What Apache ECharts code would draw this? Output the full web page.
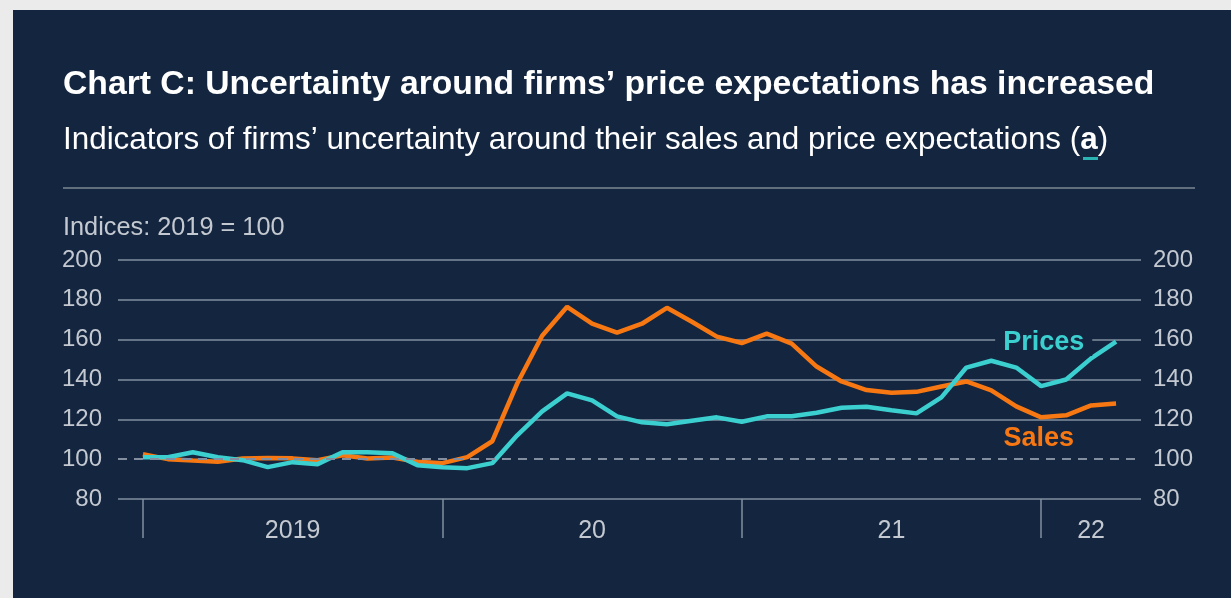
<!DOCTYPE html>
<html>
<head>
<meta charset="utf-8">
<script src="https://cdn.jsdelivr.net/npm/echarts@6/dist/echarts.min.js"></script>
<style>
  html, body { margin: 0; padding: 0; background: #ebebeb; }
  #chart { position: absolute; left: 13px; top: 10px; width: 1218px; height: 588px; }
</style>
</head>
<body>
<div id="chart"></div>
<script>
  // month index 0 = Jan 2019 ... 39 = Apr 2022
  const yearTicks = [0, 12, 24, 36]
  const yearLabelPos = [6, 18, 30, 38]
  const yearLabels = ['2019', '20', '21', '22']
  const yTicks = [80, 100, 120, 140, 160, 180, 200]

  const prices = [101, 101, 103.5, 101, 99.5, 96, 98.5, 97.5, 103.5, 103.5, 103, 97,
    96, 95.5, 98, 112, 124, 133, 129.5, 121.5, 118.5, 117.5, 119.3, 121,
    118.8, 121.5, 121.5, 123.3, 125.8, 126.3, 124.6, 123, 131, 146, 149.4, 146,
    136.7, 140, 150.6, 159]
  const sales = [102.5, 100, 99.3, 98.7, 100.3, 100.6, 100.4, 99.5, 102, 100.3, 100.8, 98.7,
    98, 101, 109, 138, 162, 176.5, 168, 163.5, 168, 176, 169, 161.5,
    158.3, 163, 158, 146.5, 139, 134.7, 133.3, 133.8, 136.5, 139, 134.5, 126.5,
    121, 122, 127, 128]

  const navy = '#13253f'
  const gridGrey = '#838fa0'
  const labelGrey = '#c4c9d1'
  const teal = '#3ccfd0'
  const orange = '#f77812'
  const font = '"Liberation Sans", Arial, sans-serif'

  const toPairs = arr => arr.map((v, i) => [i, v])

  // hide the solid grid line at 100, the dashed markLine replaces it
  const splitColors = yTicks.map(v => (v === 100 ? 'rgba(0,0,0,0)' : gridGrey))

  // inline series label drawn as an invisible markPoint
  function inlineLabel(text, color, coord, extra) {
    return {
      symbol: 'circle',
      symbolSize: 1,
      itemStyle: { color: 'rgba(0,0,0,0)' },
      label: Object.assign({
        show: true, position: 'inside', formatter: text, color: color,
        fontSize: 27, fontWeight: 'bold', fontFamily: font
      }, extra || {}),
      data: [{ coord: coord }]
    }
  }

  const chart = echarts.init(document.getElementById('chart'))
  chart.setOption({
    backgroundColor: navy,
    animation: false,
    textStyle: { fontFamily: font },
    graphic: [
      {
        type: 'text', x: 50, y: 75,
        style: {
          text: 'Chart C: Uncertainty around firms\u2019 price expectations has increased',
          fill: '#ffffff', font: 'bold 33.7px ' + font, verticalAlign: 'middle'
        }
      },
      {
        type: 'text', x: 50, y: 130,
        style: {
          text: 'Indicators of firms\u2019 uncertainty around their sales and price expectations ({b|a})',
          fill: '#ffffff', font: '31.4px ' + font, verticalAlign: 'middle',
          rich: { b: { fontWeight: 'bold', fontSize: 31.4, fill: '#ffffff' } }
        }
      },
      { type: 'rect', x: 1070, y: 147, shape: { width: 15, height: 3 }, style: { fill: '#2bb3b3' } },
      { type: 'line', shape: { x1: 50, y1: 178, x2: 1182, y2: 178 }, style: { stroke: '#7d8795', lineWidth: 1.5 } },
      {
        type: 'text', x: 50, y: 218,
        style: { text: 'Indices: 2019 = 100', fill: labelGrey, font: '25.3px ' + font, verticalAlign: 'middle' }
      }
    ],
    grid: { left: 105, right: 90, top: 250, bottom: 99 },
    xAxis: {
      type: 'value',
      min: -1,
      max: 40,
      axisLine: { show: false },
      splitLine: { show: false },
      axisTick: {
        show: true,
        customValues: yearTicks,
        length: 39,
        lineStyle: { color: gridGrey, width: 1.5 }
      },
      axisLabel: {
        customValues: yearLabelPos,
        margin: 20,
        color: labelGrey,
        fontSize: 25,
        formatter: v => yearLabels[yearLabelPos.indexOf(v)]
      }
    },
    yAxis: [
      {
        type: 'value', min: 80, max: 200, interval: 20, position: 'left',
        axisLine: { show: false }, axisTick: { show: false },
        axisLabel: { color: labelGrey, fontSize: 24, margin: 16 },
        splitLine: { show: true, lineStyle: { color: splitColors, width: 1.5 } }
      },
      {
        type: 'value', min: 80, max: 200, interval: 20, position: 'right',
        axisLine: { show: false }, axisTick: { show: false },
        axisLabel: { color: labelGrey, fontSize: 24, margin: 12 },
        splitLine: { show: false }
      }
    ],
    series: [
      {
        name: 'Sales',
        type: 'line',
        data: toPairs(sales),
        showSymbol: false,
        lineStyle: { color: orange, width: 4.5 },
        markLine: {
          silent: true,
          symbol: 'none',
          label: { show: false },
          lineStyle: { color: gridGrey, type: [9, 7], width: 2 },
          data: [{ yAxis: 100 }]
        },
        markPoint: inlineLabel('Sales', orange, [35.9, 110.6])
      },
      {
        name: 'Prices',
        type: 'line',
        data: toPairs(prices),
        showSymbol: false,
        lineStyle: { color: teal, width: 4.5 },
        markPoint: inlineLabel('Prices', teal, [36.1, 158.6], {
          fontSize: 27, backgroundColor: navy, padding: [0, 8, 0, 8]
        })
      }
    ]
  })
</script>
</body>
</html>
